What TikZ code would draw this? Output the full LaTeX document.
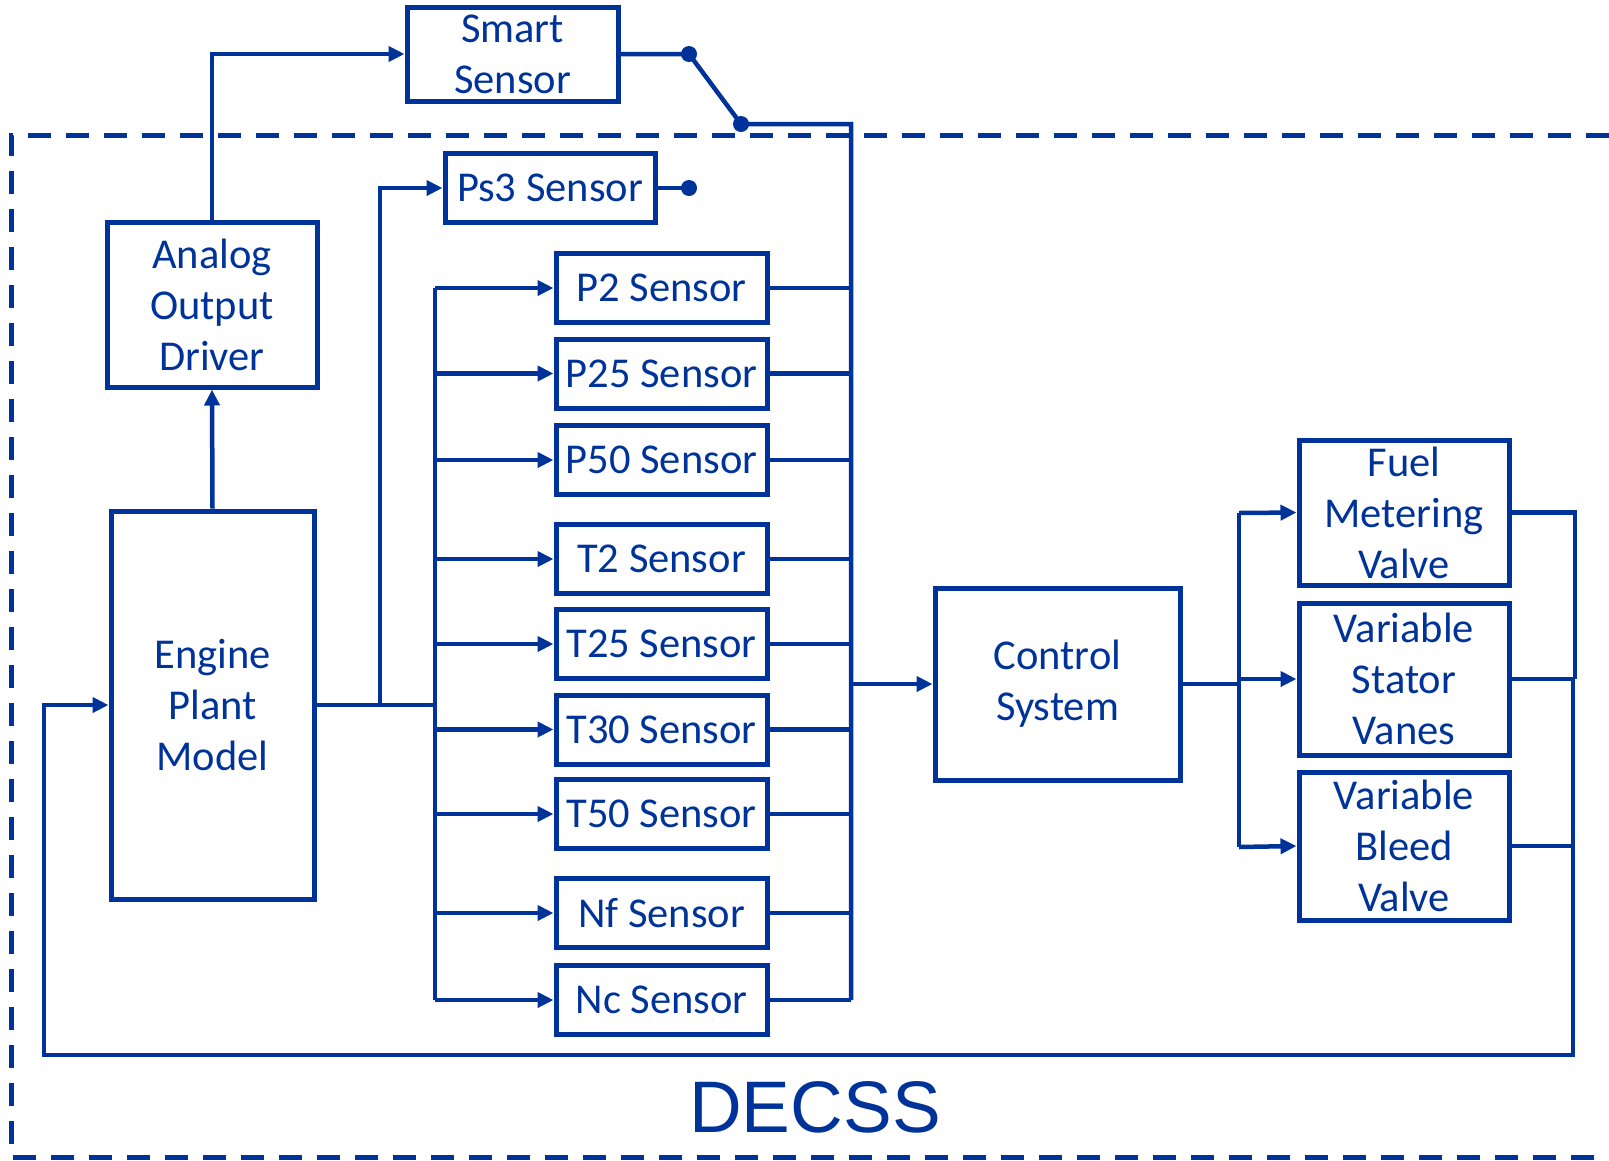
\documentclass[tikz,border=0pt]{standalone}
\usepackage{fontspec}
\setmainfont{Carlito}
\newfontfamily\decssfont{Liberation Sans}
\usetikzlibrary{arrows.meta}
\definecolor{db}{RGB}{0,51,153}
\begin{document}
\begin{tikzpicture}[x=1pt,y=-1pt,
  blk/.style={draw=db, line width=5pt, text=db, inner sep=0pt, font=\fontsize{42.5}{51}\selectfont, align=center},
  sensorbox/.style={blk, minimum width=211pt, minimum height=69pt},
  wire/.style={draw=db, line width=4.5pt},
  arr/.style={wire, -{Triangle[length=16pt,width=15pt]}},
  dotnode/.style={circle, fill=db, inner sep=0pt, minimum size=16pt}]
\useasboundingbox (0,0) rectangle (1609,1160);
% frame
\draw[db, line width=5pt, dash pattern=on 23pt off 15pt] (1609,135) -- (11,135) -- (11,1157) -- (1609,1157);
\node[text=db, font=\decssfont\fontsize{73}{80}\selectfont, anchor=base] (decss) at (815,1132) {DECSS};
% blocks
\node[blk, minimum width=211pt, minimum height=94pt] (smart) at (512.5,54) {Smart\\Sensor};
\node[blk, minimum width=210pt, minimum height=69pt] (ps3) at (550,188) {\raisebox{-2pt}{Ps3 Sensor}};
\node[blk, minimum width=210pt, minimum height=165pt] (analog) at (212,304.5) {Analog\\Output\\Driver};
\node[blk, minimum width=203pt, minimum height=388pt] (engine) at (212.5,705) {Engine\\Plant\\Model};
\node[blk, minimum width=245pt, minimum height=192pt] (control) at (1057.5,684) {Control\\System};
\node[blk, minimum width=210pt, minimum height=145pt] (fmv) at (1404,512.5) {Fuel\\Metering\\Valve};
\node[blk, minimum width=210pt, minimum height=152pt] (vsv) at (1404,679) {Variable\\Stator\\Vanes};
\node[blk, minimum width=210pt, minimum height=148pt] (vbv) at (1404,846) {Variable\\Bleed\\Valve};
% switch dots
\node[dotnode] (d1) at (689,54) {};
\node[dotnode] (d2) at (741,124) {};
\node[dotnode] (d3) at (689,188) {};
% bus coordinates
\coordinate (busL) at (435,705);
\coordinate (busLtop) at (435,288);
\coordinate (busLbot) at (435,1000);
\coordinate (busRtop) at (851,124);
\coordinate (busRbot) at (851,1000);
\coordinate (jP) at (380,705);
\coordinate (busA) at (1239,513);
\coordinate (busAbot) at (1239,847);
\coordinate (outR) at (1575,679);
\coordinate (fbR) at (1573,1055);
\coordinate (fbL) at (44,1055);
% sensors
\foreach \n/\y/\t in {p2/288/P2 Sensor, p25/373.5/P25 Sensor, p50/460/P50 Sensor, t2/559/T2 Sensor, t25/644/T25 Sensor, t30/729.5/T30 Sensor, t50/814/T50 Sensor, nf/913/Nf Sensor, nc/1000/Nc Sensor}{
  \node[sensorbox] (\n) at (661.5,\y) {\raisebox{-2pt}{\t}};
  \draw[arr] (busL |- \n.west) -- (\n.west);
  \draw[wire] (\n.east) -- (busRtop |- \n.east);
}
% wires
\draw[arr] (engine.north) -- (analog.south);
\draw[arr] (analog.north) |- (smart.west);
\draw[wire] (engine.east) -- (busL);
\draw[wire] (busLtop) -- (busLbot);
\draw[arr] (jP) |- (ps3.west);
\draw[wire] (smart.east) -- (d1.center) -- (d2.center) -- (busRtop) -- (busRbot);
\draw[wire] (ps3.east) -- (d3.center);
\draw[arr] (busRtop |- control.west) -- (control.west);
\draw[wire] (control.east) -- (busA |- control.east);
\draw[wire] (busA) -- (busAbot);
\draw[arr] (busA) -- (fmv.west);
\draw[arr] (busA |- vsv.west) -- (vsv.west);
\draw[arr] (busAbot) -- (vbv.west);
\draw[wire] (fmv.east) -| (outR);
\draw[wire] (vsv.east) -- (outR);
\draw[wire] (vbv.east) -- (fbR |- vbv.east);
\draw[arr] (fbR |- outR) -- (fbR) -- (fbL) -- (fbL |- engine.west) -- (engine.west);
\end{tikzpicture}
\end{document}
